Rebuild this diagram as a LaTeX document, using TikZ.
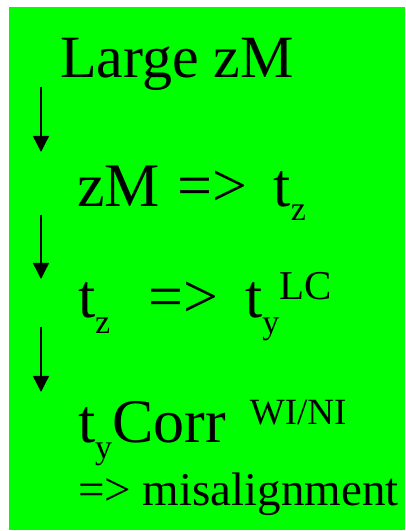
\documentclass[tikz,border=0pt]{standalone}
\usepackage{fontspec}
\setmainfont{Liberation Serif}
\usetikzlibrary{arrows.meta}
\definecolor{bggreen}{RGB}{0,255,0}
\newcommand{\mysub}[2][-14pt]{\raisebox{#1}{\fontsize{34}{34}\selectfont #2}}
\newcommand{\mysup}[3][18pt]{\raisebox{#1}{\fontsize{#2}{#2}\selectfont #3}}
\tikzset{
  line/.style={anchor=base west, inner sep=0pt, outer sep=0pt, text=black},
  flow/.style={draw=black, line width=1.4pt, -{Triangle[width=16pt,length=16pt]}}
}
\begin{document}
\begin{tikzpicture}[x=1pt,y=1pt]
\useasboundingbox (0,0) rectangle (405,531);
\fill[white] (0,0) rectangle (405,531);
\fill[bggreen] (9,1) rectangle (405,524);
\node[line, font=\fontsize{60}{60}\selectfont] (l1) at (60,453) {Large zM};
\node[line, font=\fontsize{62}{62}\selectfont] (l2) at (77,324) {zM\hspace{18pt}=>\hspace{26pt}t\mysub{z}};
\node[line, font=\fontsize{62}{62}\selectfont] (l3) at (78,213) {t\mysub[-16pt]{z}\hspace{38pt}=>\hspace{27pt}t\mysub[-16pt]{y}\mysup{41}{LC}};
\node[line, font=\fontsize{62}{62}\selectfont] (l4) at (78,88) {t\mysub[-16pt]{y}Corr\hspace{24pt}\mysup{37}{WI/NI}};
\node[line, font=\fontsize{47}{47}\selectfont] (l5) at (78,26) {=> misalignment};
\coordinate (a1s) at (41,444); \coordinate (a1e) at (41,379);
\coordinate (a2s) at (41,316); \coordinate (a2e) at (41,252);
\coordinate (a3s) at (41,204); \coordinate (a3e) at (41,139);
\draw[flow] (a1s) -- (a1e);
\draw[flow] (a2s) -- (a2e);
\draw[flow] (a3s) -- (a3e);
\end{tikzpicture}
\end{document}
